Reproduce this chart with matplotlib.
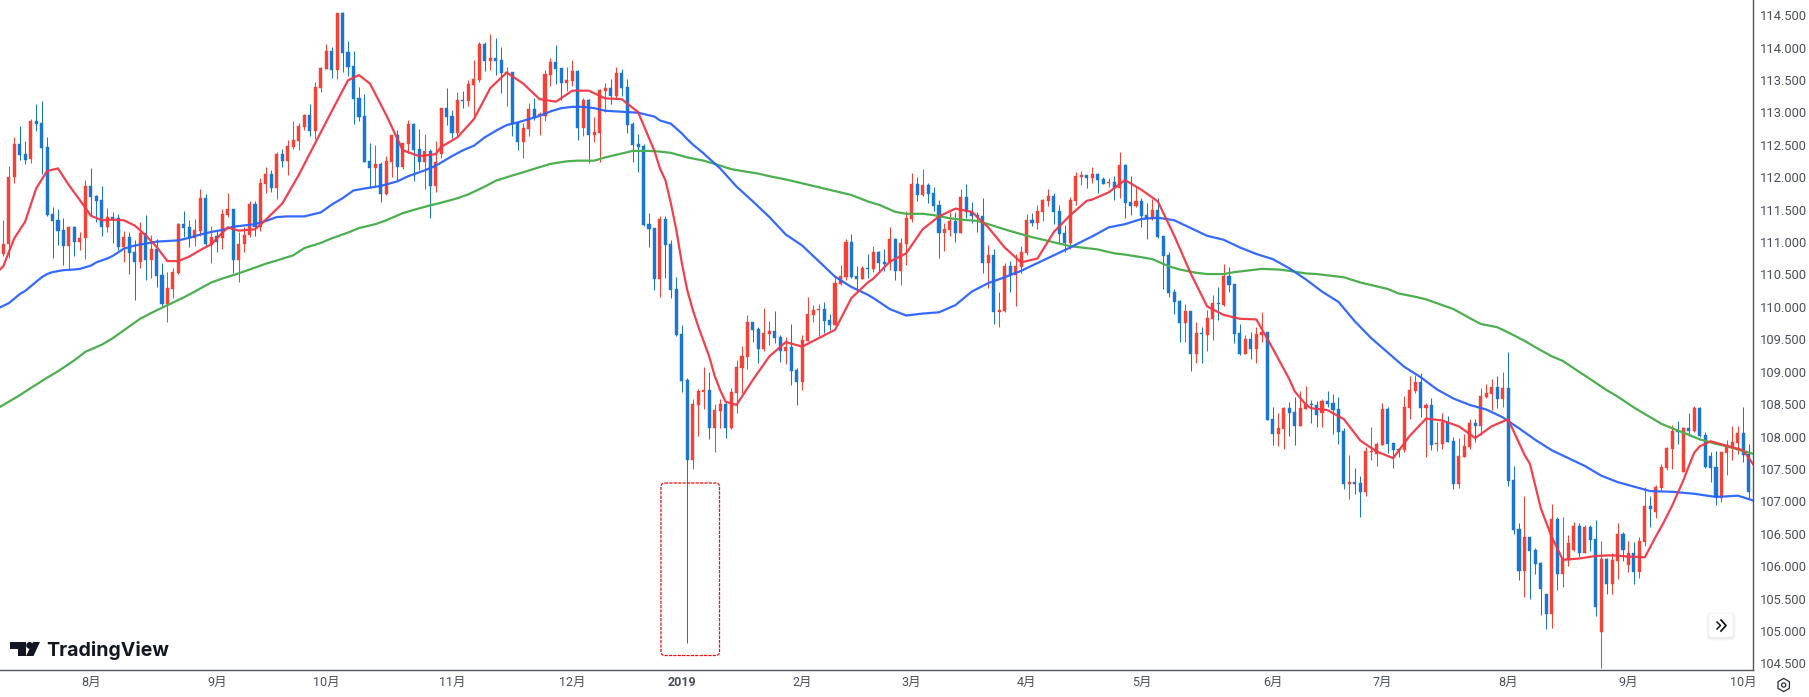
import matplotlib
matplotlib.use("Agg")
import matplotlib.pyplot as plt
from matplotlib.patches import FancyBboxPatch, Polygon, Circle, RegularPolygon

# ---------- data (USD/JPY daily candles) ----------
opens = [
110.84,110.99,112.02,112.54,112.38,112.30,112.89,112.86,112.49,111.46,
111.36,111.21,110.97,111.26,111.02,111.08,111.89,111.73,111.67,111.26,
111.41,111.39,110.95,111.10,110.87,110.72,111.16,110.75,110.92,110.52,
110.07,110.30,110.55,111.30,111.26,111.09,111.19,111.70,110.98,111.12,
111.08,111.44,111.54,110.74,110.99,111.14,111.61,111.26,111.92,112.07,
111.86,112.38,112.27,112.49,112.58,112.80,112.98,112.74,113.40,113.69,
113.97,113.68,114.56,113.96,113.74,113.25,112.97,112.27,112.17,112.23,
111.77,112.26,112.67,112.18,112.54,112.85,112.46,112.26,112.43,111.89,
112.38,113.09,112.97,112.71,113.22,113.20,113.45,113.52,114.08,113.82,
113.86,113.83,113.63,113.65,112.86,112.57,112.77,113.08,112.99,112.97,
113.60,113.80,113.71,113.48,113.51,113.66,112.79,113.22,112.68,112.71,
113.36,113.40,113.28,113.63,113.42,112.85,112.54,112.51,111.30,111.24,
110.45,111.38,110.99,110.30,109.60,108.90,107.66,108.51,108.71,108.74,
108.15,108.42,108.53,108.15,108.69,109.08,109.25,109.79,109.68,109.37,
109.60,109.65,109.56,109.34,109.40,109.05,108.86,109.50,109.90,109.98,
109.99,109.82,109.74,110.38,110.49,111.02,110.50,110.45,110.62,110.61,
110.87,110.72,110.72,111.07,110.58,110.99,111.38,111.92,111.75,111.90,
111.78,111.60,111.16,111.21,111.35,111.16,111.72,111.50,111.44,111.43,
110.70,110.82,109.94,109.96,110.65,110.51,110.64,110.85,111.36,111.32,
111.49,111.66,111.73,111.50,111.16,111.01,111.66,112.03,112.06,112.01,
112.07,112.00,111.94,111.95,111.86,112.21,111.64,111.58,111.66,111.44,
111.38,111.52,111.12,110.82,110.25,110.11,109.78,109.96,109.30,109.62,
109.59,109.84,110.08,110.05,110.50,110.38,109.62,109.30,109.53,109.37,
109.59,109.64,108.29,108.06,108.14,108.46,108.40,108.19,108.45,108.53,
108.51,108.38,108.57,108.54,108.45,108.11,107.29,107.32,107.31,107.17,
107.78,107.75,107.89,108.45,107.92,107.83,107.82,108.46,108.73,108.86,
108.46,108.51,107.91,107.91,108.25,107.95,107.29,107.71,107.86,108.23,
108.19,108.63,108.68,108.79,108.60,108.77,107.35,106.60,105.94,106.47,
106.27,106.07,105.59,105.28,106.75,105.90,106.12,106.27,106.64,106.23,
106.63,106.44,105.01,106.13,105.75,106.10,106.52,106.04,106.23,105.93,
106.39,106.95,106.86,107.23,107.54,107.83,108.11,107.48,108.15,108.11,
108.46,108.05,107.72,107.55,107.07,107.77,107.85,107.92,108.08,107.75,
]
closes = [
111.00,112.02,112.54,112.37,112.29,112.89,112.85,112.48,111.44,111.35,
111.19,110.97,111.26,111.03,111.09,111.89,111.72,111.66,111.26,111.41,
111.37,110.95,111.10,110.86,110.72,111.16,110.75,110.92,110.50,110.07,
110.31,110.56,111.30,111.24,111.09,111.21,111.70,110.99,111.10,111.02,
111.45,111.54,110.74,111.00,111.14,111.61,111.26,111.93,112.07,111.86,
112.38,112.27,112.51,112.60,112.81,112.98,112.74,113.42,113.71,113.97,
113.68,114.56,113.94,113.73,113.23,112.95,112.26,112.17,112.23,111.77,
112.27,112.67,112.18,112.55,112.85,112.44,112.26,112.43,111.89,112.26,
113.09,112.95,112.71,113.22,113.20,113.46,113.54,114.08,113.82,113.86,
113.82,113.63,113.65,112.85,112.57,112.79,113.08,112.94,113.00,113.62,
113.80,113.69,113.48,113.53,113.66,112.79,113.22,112.68,112.72,113.37,
113.40,113.28,113.63,113.40,112.83,112.52,112.49,111.29,111.23,110.45,
111.38,110.98,110.28,109.59,108.88,107.66,108.53,108.73,108.74,108.15,
108.43,108.53,108.15,108.71,109.10,109.27,109.79,109.67,109.37,109.62,
109.65,109.54,109.34,109.40,109.03,108.86,109.51,109.91,109.98,109.99,
109.81,109.74,110.39,110.50,111.02,110.49,110.45,110.62,110.61,110.87,
110.70,110.68,111.07,110.58,111.01,111.39,111.92,111.75,111.90,111.77,
111.58,111.16,111.23,111.35,111.16,111.72,111.49,111.43,111.41,110.70,
110.82,109.94,109.97,110.65,110.51,110.65,110.87,111.36,111.32,111.50,
111.67,111.73,111.49,111.15,111.01,111.67,112.04,112.06,112.01,112.07,
111.98,111.92,111.95,111.86,112.21,111.63,111.58,111.66,111.43,111.38,
111.52,111.10,110.81,110.24,110.10,109.78,109.96,109.30,109.62,109.60,
109.85,110.08,110.07,110.50,110.36,109.61,109.30,109.53,109.37,109.61,
109.64,108.28,108.06,108.15,108.46,108.39,108.19,108.46,108.52,108.51,
108.36,108.57,108.52,108.43,108.09,107.29,107.32,107.29,107.17,107.80,
107.80,107.91,108.45,107.91,107.82,107.82,108.48,108.74,108.86,108.46,
108.51,107.89,107.92,108.25,107.94,107.29,107.72,107.88,108.23,108.19,
108.65,108.69,108.79,108.60,108.77,107.34,106.58,105.94,106.48,106.26,
106.05,105.67,105.28,106.75,105.90,106.13,106.38,106.64,106.23,106.63,
106.43,105.39,106.13,105.75,106.12,106.52,106.27,106.22,105.93,106.41,
106.95,106.90,107.24,107.55,107.85,108.11,108.09,108.15,108.11,108.46,
108.03,107.55,107.54,107.09,107.78,107.86,107.94,108.08,107.74,107.17,
]
highs = [
111.36,112.20,112.64,112.81,112.59,112.93,113.15,113.20,112.64,111.56,
111.53,111.39,111.27,111.27,111.18,111.98,112.16,111.75,111.89,111.55,
111.49,111.46,111.19,111.18,111.05,111.33,111.44,111.13,111.07,110.70,
110.56,110.62,111.32,111.50,111.36,111.38,111.84,111.77,111.27,111.19,
111.54,111.78,111.54,111.18,111.26,111.65,111.66,112.01,112.18,112.13,
112.41,112.46,112.60,112.89,112.86,113.00,113.15,113.49,113.73,114.08,
114.03,114.56,114.57,114.13,113.97,113.42,113.31,112.55,112.52,112.26,
112.35,112.67,112.75,112.55,112.91,112.86,112.77,112.69,112.46,112.58,
113.10,113.40,113.06,113.34,113.36,113.53,113.83,114.11,114.11,114.23,
114.17,114.03,113.73,113.65,112.88,112.86,113.17,113.25,113.03,113.68,
113.86,114.07,113.71,113.73,113.83,113.68,113.25,113.23,112.95,113.39,
113.48,113.54,113.73,113.70,113.54,112.88,112.69,112.53,111.47,111.24,
111.43,111.43,111.06,110.48,109.74,108.93,108.60,108.76,109.10,109.02,
108.52,108.60,108.57,108.77,109.20,109.42,109.90,109.79,109.71,110.00,
109.81,109.96,109.59,109.56,109.76,109.08,109.59,110.18,110.05,110.07,
110.10,109.91,110.50,110.67,111.07,111.15,110.65,110.65,110.84,110.96,
110.89,110.92,111.26,111.09,111.09,111.50,112.09,112.03,112.15,111.93,
111.87,111.67,111.32,111.49,111.49,111.84,111.92,111.64,111.49,111.70,
110.98,110.92,110.25,110.70,110.73,110.84,110.96,111.46,111.47,111.60,
111.69,111.84,111.78,111.60,111.29,111.72,112.10,112.12,112.06,112.18,
112.09,112.03,112.01,112.04,112.41,112.23,112.04,111.89,111.70,111.63,
111.69,111.70,111.12,110.87,110.30,110.13,110.07,109.96,109.79,109.71,
109.98,110.21,110.33,110.69,110.64,110.38,109.76,109.59,109.64,109.71,
109.95,109.64,108.48,108.38,108.48,108.56,108.63,108.72,108.81,108.59,
108.57,108.60,108.73,108.68,108.63,108.15,107.74,107.54,107.41,107.86,
108.17,107.94,108.54,108.48,107.92,107.85,108.65,108.96,108.97,109.00,
108.54,108.62,108.25,108.39,108.34,108.02,108.00,108.06,108.29,108.29,
108.77,108.83,108.91,108.96,109.02,109.33,107.57,106.69,107.10,106.47,
106.30,106.09,105.59,106.98,106.78,106.78,106.50,106.70,106.69,106.66,
106.66,106.73,106.41,106.15,106.22,106.69,106.55,106.41,106.39,106.47,
107.24,107.10,107.27,107.60,107.86,108.20,108.26,108.17,108.39,108.49,
108.48,108.09,107.78,107.80,107.78,107.97,108.18,108.18,108.48,107.91,
]
lows = [
110.81,110.78,111.94,112.29,112.23,112.25,112.74,112.07,111.42,110.77,
110.98,110.67,110.61,110.81,110.90,110.76,111.44,111.34,111.12,111.18,
111.01,110.90,110.72,110.53,110.13,110.62,110.44,110.47,110.33,110.04,
109.79,110.16,110.53,111.10,110.95,110.96,111.12,110.96,110.70,110.87,
110.92,111.41,110.54,110.40,110.87,111.10,111.12,111.19,111.78,111.79,
111.69,112.18,112.06,112.46,112.44,112.75,112.66,112.61,113.34,113.69,
113.56,113.54,113.65,113.59,112.85,112.89,112.26,111.86,111.87,111.64,
111.75,112.03,111.97,112.15,112.40,111.97,112.13,111.84,111.40,111.80,
112.32,112.83,112.63,112.66,113.09,113.12,112.97,113.49,113.66,113.68,
113.60,113.33,113.12,112.66,112.44,112.32,112.66,112.91,112.68,112.89,
113.43,113.46,113.22,113.36,113.43,112.60,112.66,112.25,112.57,112.26,
113.03,113.15,113.23,113.28,112.71,112.26,112.10,111.27,110.95,110.28,
110.17,110.47,110.16,109.57,108.71,104.84,107.52,108.03,108.45,107.98,
107.78,108.15,108.00,108.14,108.39,108.69,109.07,109.48,109.16,109.34,
109.44,109.47,109.17,109.14,108.82,108.51,108.74,109.50,109.79,109.57,
109.62,109.67,109.74,110.36,110.44,110.47,110.28,110.45,110.47,110.56,
110.56,110.58,110.59,110.44,110.36,110.67,111.33,111.66,111.73,111.63,
111.50,110.78,110.89,111.12,111.02,111.16,111.39,111.32,111.18,110.55,
110.31,109.76,109.71,109.94,110.25,110.04,110.55,110.82,111.27,111.23,
111.35,111.58,111.30,111.00,110.87,110.92,111.60,111.90,111.86,111.94,
111.78,111.92,111.87,111.67,111.70,111.40,111.44,111.57,111.26,111.07,
111.36,111.09,110.30,110.18,109.91,109.48,109.48,109.03,109.16,109.16,
109.34,109.51,109.82,110.04,110.25,109.47,109.28,109.30,109.22,109.16,
109.48,108.28,107.89,107.87,107.83,108.03,107.89,108.19,108.45,108.23,
108.17,108.17,108.48,108.06,107.91,107.21,107.06,107.14,106.78,107.11,
107.66,107.57,107.89,107.77,107.54,107.71,107.78,108.29,108.69,108.32,
107.71,107.82,107.80,107.83,107.94,107.21,107.23,107.71,107.83,107.94,
108.05,108.62,108.43,108.46,108.48,107.26,106.52,105.81,105.55,105.52,
105.90,105.27,105.05,105.07,105.65,105.70,106.02,106.26,106.16,106.23,
106.26,105.25,104.45,105.59,105.59,105.82,106.10,105.93,105.75,105.84,
106.33,106.63,106.77,107.18,107.51,107.52,107.91,107.48,108.03,108.09,
108.02,107.54,107.32,106.97,107.01,107.43,107.66,107.75,107.63,107.07,
]

# moving averages: candle number and value, read at sampled candles
ma_fast_idx = [-1,0,2,4,6,8,10,12,14,16,18,20,22,24,26,28,30,32,34,36,38,41,43,46,48,51,54,57,60,63,65,67,70,73,76,79,
               80,83,86,89,92,95,98,101,104,107,110,113,116,119,120,121,122,123,124,125,126,127,128,129,130,131,132,134,137,140,143,146,149,152,155,158,
               159,162,165,168,171,174,177,180,183,186,189,192,195,198,199,202,205,208,211,214,217,220,223,226,229,232,235,
               236,238,239,242,245,248,251,254,257,260,263,266,269,272,275,278,279,281,283,285,288,291,294,297,300,302,303,304,305,306,307,308,309,310,312,315,318,320]
ma_fast = [110.57,110.65,111.08,111.34,111.85,112.12,112.16,111.90,111.67,111.43,111.36,111.37,111.36,111.28,111.13,110.95,110.73,110.73,110.80,110.90,110.99,
           111.25,111.20,111.22,111.37,111.62,112.06,112.55,113.04,113.52,113.60,113.47,112.98,112.44,112.35,112.38,
           112.49,112.64,112.92,113.40,113.64,113.47,113.23,113.19,113.36,113.36,113.24,113.23,113.03,112.43,112.16,111.98,111.62,111.21,110.70,110.28,109.98,109.72,109.49,109.26,108.96,108.74,108.56,108.51,108.90,109.26,109.48,109.41,109.54,109.67,110.16,110.40,
           110.46,110.72,110.85,111.22,111.42,111.54,111.49,111.25,110.94,110.71,110.77,111.18,111.44,111.66,
           111.68,111.79,111.98,111.83,111.65,111.12,110.54,110.03,109.90,109.84,109.83,109.38,108.91,
           108.72,108.52,108.46,108.43,108.29,107.96,107.79,107.69,108.03,108.30,108.27,108.18,108.00,108.18,108.29,107.74,
           107.60,106.91,106.47,106.12,106.14,106.18,106.19,106.17,106.16,106.48,106.63,106.79,106.96,107.15,107.34,107.56,107.77,107.87,107.95,107.88,107.81,107.57]

ma_mid_idx = [-1,0,1,3,4,6,7,8,9,11,13,14,16,17,19,20,22,24,26,28,30,32,34,36,38,40,42,44,46,48,50,52,55,58,60,62,64,66,69,72,74,77,79,
              80,82,84,86,88,90,92,94,96,98,100,102,104,106,108,110,112,114,116,119,120,122,124,125,126,128,
              131,134,137,140,143,146,149,152,155,158,159,162,165,168,171,174,177,180,183,186,189,192,195,198,
              199,202,205,208,211,214,217,220,223,226,229,232,235,238,241,244,247,250,253,256,259,262,265,268,271,274,277,
              280,283,286,289,292,295,298,301,305,309,313,317,320]
ma_mid = [110.00,110.04,110.08,110.22,110.27,110.41,110.48,110.53,110.56,110.59,110.60,110.61,110.66,110.71,110.77,110.81,110.92,110.97,111.00,111.03,111.04,111.05,111.09,111.14,111.18,111.21,111.26,111.28,111.30,111.35,111.41,111.42,111.42,111.48,111.60,111.70,111.82,111.85,111.89,111.96,112.04,112.13,112.20,
          112.25,112.35,112.44,112.51,112.64,112.74,112.83,112.87,112.92,112.97,113.04,113.09,113.11,113.11,113.09,113.05,113.04,113.03,113.02,112.96,112.90,112.85,112.70,112.61,112.53,112.39,
          112.16,111.88,111.65,111.41,111.14,110.97,110.73,110.49,110.33,110.21,110.16,109.99,109.89,109.92,109.94,110.05,110.26,110.39,110.48,110.58,110.70,110.82,110.94,111.07,
          111.11,111.25,111.30,111.38,111.40,111.36,111.24,111.12,111.06,110.94,110.84,110.76,110.62,110.45,110.26,110.10,109.80,109.54,109.32,109.10,108.94,108.75,108.61,108.51,108.44,108.32,108.15,
          107.97,107.81,107.69,107.57,107.42,107.32,107.25,107.18,107.17,107.14,107.09,107.11,107.03]

ma_slow_idx = [-1,0,3,5,8,10,13,15,18,20,23,25,28,30,33,35,38,40,43,45,48,50,53,55,58,60,63,65,68,70,73,75,78,80,83,85,88,90,93,95,98,100,103,105,108,110,113,115,118,120,122,125,128,130,133,135,138,140,143,145,148,150,153,155,158,
               160,163,165,168,170,173,175,178,180,183,185,188,190,193,195,198,200,203,205,208,210,213,215,218,220,223,225,228,230,233,235,238,
               240,243,245,248,250,253,255,258,260,263,265,268,270,273,275,278,280,283,285,288,290,293,295,298,300,303,305,308,310,313,315,318,320]
ma_slow = [108.46,108.51,108.66,108.77,108.93,109.03,109.20,109.33,109.44,109.54,109.72,109.84,109.97,110.05,110.17,110.26,110.40,110.46,110.54,110.60,110.69,110.74,110.82,110.93,111.01,111.08,111.17,111.24,111.30,111.36,111.47,111.52,111.59,111.63,111.70,111.76,111.88,111.97,112.05,112.10,112.18,112.23,112.27,112.28,112.28,112.33,112.39,112.43,112.43,112.42,112.40,112.33,112.28,112.23,112.15,112.12,112.08,112.04,111.99,111.95,111.89,111.85,111.79,111.75,111.65,
           111.60,111.49,111.46,111.46,111.44,111.39,111.37,111.35,111.30,111.22,111.17,111.10,111.06,111.00,110.96,110.93,110.91,110.85,110.83,110.79,110.76,110.65,110.60,110.55,110.53,110.53,110.56,110.59,110.61,110.60,110.58,110.54,
           110.53,110.50,110.48,110.40,110.36,110.30,110.23,110.18,110.14,110.05,109.99,109.85,109.76,109.71,109.63,109.50,109.40,109.26,109.19,109.02,108.91,108.74,108.64,108.47,108.37,108.22,108.15,108.05,107.98,107.91,107.87,107.80,107.75]

month_idx = [16,39,59,82,104,124,146,166,187,208,232,252,275,297,318]
month_labels = ["8月","9月","10月","11月","12月","2019","2月","3月","4月","5月","6月","7月","8月","9月","10月"]
price_ticks = [104.5,105.0,105.5,106.0,106.5,107.0,107.5,108.0,108.5,109.0,109.5,110.0,110.5,111.0,111.5,112.0,112.5,113.0,113.5,114.0,114.5]

assert len(opens)==len(closes)==len(highs)==len(lows)
assert len(ma_fast)==len(ma_fast_idx), (len(ma_fast), len(ma_fast_idx))
assert len(ma_mid)==len(ma_mid_idx), (len(ma_mid), len(ma_mid_idx))
assert len(ma_slow)==len(ma_slow_idx), (len(ma_slow), len(ma_slow_idx))

# ---------- styling ----------
RED, BLUE = "#F44336", "#1976D2"
AXIS = "#50535E"
TXT = "#4a4e5a"
CJK = ["Roboto", "Noto Sans CJK JP", "DejaVu Sans"]
W, H = 1809, 697
PLOT_R, PLOT_B = 1753, 670

fig = plt.figure(figsize=(W/100, H/100), dpi=100, facecolor="white")
ax = fig.add_axes([0, 1-PLOT_B/H, PLOT_R/W, PLOT_B/H])
ax.set_facecolor("white")

n = len(opens)
xs = list(range(n))
cols = [RED if c >= o else BLUE for o, c in zip(opens, closes)]
ax.vlines(xs, lows, highs, colors=cols, linewidth=0.75, zorder=2)
ax.bar(xs, [abs(c-o) for o, c in zip(opens, closes)], bottom=[min(o, c) for o, c in zip(opens, closes)],
       width=0.56, color=cols, edgecolor=cols, linewidth=0.3, zorder=2.5)

ax.plot(ma_slow_idx, ma_slow, color="#4CAF50", lw=1.6, zorder=3, solid_joinstyle="round")
ax.plot(ma_mid_idx, ma_mid, color="#2962FF", lw=1.6, zorder=4, solid_joinstyle="round", alpha=0.95)
ax.plot(ma_fast_idx, ma_fast, color="#F23645", lw=1.6, zorder=5, solid_joinstyle="round", alpha=0.95)

ax.set_xlim(-0.603, 319.76)
ax.set_ylim(104.42, 114.759)

for s in ("top", "left"):
    ax.spines[s].set_visible(False)
for s in ("right", "bottom"):
    ax.spines[s].set_color(AXIS)
    ax.spines[s].set_linewidth(1.0)

ax.set_yticks([])
for p in price_ticks:
    ax.annotate(f"{p:.3f}", (1, p), xycoords=("axes fraction", "data"), xytext=(5.2, 0),
                textcoords="offset points", fontsize=9.3, color=TXT, family=CJK,
                ha="left", va="center", annotation_clip=False)
ax.set_xticks(month_idx)
ax.set_xticklabels(month_labels, fontsize=9, color=TXT, family=CJK)
ax.tick_params(axis="x", length=0, pad=4.5)
for lab, txt in zip(ax.get_xticklabels(), month_labels):
    if txt == "2019":
        lab.set_fontweight("bold")

# ---------- overlay decorations in pixel space ----------
ov = fig.add_axes([0, 0, 1, 1], facecolor="none")
ov.set_xlim(0, W); ov.set_ylim(H, 0); ov.axis("off")

# highlight box around the flash-crash wick
ov.add_patch(FancyBboxPatch((664, 486), 52.5, 166.5, boxstyle="round,pad=3,rounding_size=4",
                            fill=False, edgecolor="#F01010", lw=0.9, linestyle=(0, (2.6, 0.9))))

# TradingView logo
LOGO = "#131722"
ov.add_patch(Polygon([(10,642),(25.5,642),(25.5,656),(18,656),(18,649),(10,649)], closed=True, fc=LOGO, ec="none"))
ov.add_patch(Circle((29.6,645.4), 3.4, fc=LOGO, ec="none"))
ov.add_patch(Polygon([(33,642),(40,642),(33.5,656),(26,656)], closed=True, fc=LOGO, ec="none"))
ov.text(46.5, 656, "TradingView", fontsize=14.05, fontweight="bold", color=LOGO, family="Inter", va="baseline", ha="left")

# scroll-to-latest button
for grow, a in ((4.5, 0.10), (3.5, 0.14), (2.5, 0.18)):
    ov.add_patch(FancyBboxPatch((1711, 617), 20, 19, boxstyle=f"round,pad={grow},rounding_size=4", fc="#c8c8c8", ec="none", alpha=a))
ov.add_patch(FancyBboxPatch((1711, 616), 20, 19, boxstyle="round,pad=2,rounding_size=3", fc="white", ec="none"))
ov.plot([1717, 1720.5, 1717], [622, 625.5, 629], color=LOGO, lw=1.1)
ov.plot([1721, 1726, 1721], [620, 625.5, 631], color=LOGO, lw=1.3)

# settings icon
ov.add_patch(RegularPolygon((1783.7, 685), 6, radius=6.6, fill=False, ec="#2a2e39", lw=0.9))
ov.add_patch(Circle((1783.7, 685), 2.1, fill=False, ec="#2a2e39", lw=0.9))

fig.savefig("out.png", dpi=100, facecolor="white")
